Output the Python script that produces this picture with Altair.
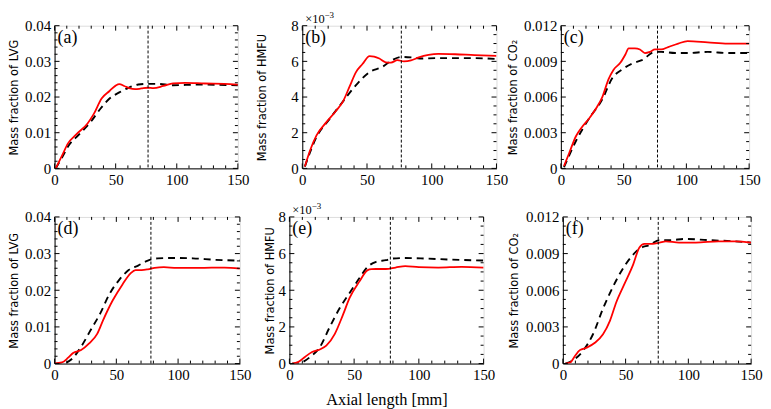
import altair as alt
import pandas as pd

# ---------------- data ----------------
# (a) LVG, case 1
A_RED_X = [1, 6, 11, 18, 27, 32, 38.5, 45, 50, 53, 57, 61, 66, 71, 76, 81, 89, 97, 107, 123, 139, 150]
A_RED_Y = [0.0, 0.0035, 0.007, 0.0096, 0.0126, 0.0152, 0.0196, 0.0217, 0.0232, 0.0236, 0.0231, 0.0225,
           0.0222, 0.0224, 0.0226, 0.0225, 0.0231, 0.0238, 0.024, 0.0238, 0.0237, 0.0235]
A_BLK_X = [1, 6, 11, 21.5, 29.5, 37, 45, 53, 60.5, 68.5, 76, 84, 97, 118, 150]
A_BLK_Y = [0.0, 0.003, 0.0061, 0.0100, 0.013, 0.0165, 0.0196, 0.0213, 0.0226, 0.0235, 0.0237, 0.0237,
           0.0233, 0.0235, 0.0233]
# (b) HMFU (x1e-3), case 1
B_RED_X = [2, 6, 11, 18.5, 26, 31.5, 36.5, 41.5, 46.5, 52, 55.5, 59.5, 64.5, 68.5, 73.5, 78.5, 84, 90,
           97.5, 105, 118, 133, 150]
B_RED_Y = [0.1, 1.0, 1.85, 2.58, 3.22, 3.76, 4.58, 5.4, 5.85, 6.3, 6.27, 6.16, 5.95, 5.93, 6.07, 6.0,
           6.05, 6.22, 6.36, 6.42, 6.4, 6.35, 6.31]
B_BLK_X = [2, 11, 21, 31.5, 41.5, 52, 62, 69.5, 77, 85, 92.5, 103, 118, 133, 150]
B_BLK_Y = [0.1, 1.76, 2.76, 3.76, 4.67, 5.4, 5.7, 6.07, 6.25, 6.22, 6.16, 6.18, 6.18, 6.18, 6.13]
# (c) CO2, case 1
C_RED_X = [2.5, 6.5, 12, 17, 22.5, 29, 33, 38, 42, 47.5, 51.5, 54, 59, 63, 67, 71, 75, 80, 85.5, 93.5,
           101, 117, 133, 150]
C_RED_Y = [0.0002, 0.00125, 0.0027, 0.0035, 0.0042, 0.0052, 0.006, 0.0075, 0.0083, 0.0089, 0.0096,
           0.0101, 0.0101, 0.0100, 0.0097, 0.0098, 0.0100, 0.0100, 0.0102, 0.0105, 0.0107, 0.0106,
           0.0105, 0.0105]
C_BLK_X = [2.5, 12, 22.5, 33, 41, 48.5, 56.5, 64.5, 75, 80, 91, 101, 117, 133, 150]
C_BLK_Y = [0.0001, 0.0023, 0.0042, 0.0058, 0.0076, 0.0083, 0.0088, 0.0091, 0.0098, 0.0098, 0.0097,
           0.0097, 0.0098, 0.0097, 0.0097]
# (d) LVG, case 2
D_RED_X = [0, 6, 11, 15, 21.5, 28, 34.5, 39.5, 47, 55, 61.5, 65.5, 70.5, 75.5, 81, 88.5, 99, 117,
           137.5, 150]
D_RED_Y = [0, 0.0003, 0.0016, 0.0029, 0.0037, 0.0055, 0.0081, 0.012, 0.0172, 0.0216, 0.0246, 0.0255,
           0.0255, 0.0257, 0.0261, 0.0263, 0.0261, 0.0261, 0.0262, 0.0259]
D_BLK_X = [0, 8.5, 13.5, 21.5, 29, 37, 44.5, 52.5, 60, 68, 75.5, 83.5, 96, 112, 130, 150]
D_BLK_Y = [0, 0.0002, 0.0011, 0.0046, 0.009, 0.0137, 0.019, 0.0229, 0.0255, 0.0268, 0.0281, 0.0287,
           0.0288, 0.0287, 0.0283, 0.0281]
# (e) HMFU (x1e-3), case 2
E_RED_X = [2, 7, 12, 17.5, 23.5, 28.5, 35, 41.5, 46.5, 54, 60.5, 63.5, 67, 74.5, 82, 89.5, 100, 115,
           133, 150]
E_RED_Y = [0, 0.09, 0.36, 0.63, 0.77, 0.98, 1.61, 2.68, 3.58, 4.47, 5.1, 5.15, 5.16, 5.16, 5.24, 5.32,
           5.26, 5.24, 5.28, 5.24]
E_BLK_X = [2, 8.5, 16, 23.5, 31, 39, 46.5, 54, 60.5, 67, 74.5, 79.5, 89.5, 105, 125, 150]
E_BLK_Y = [0, 0.04, 0.36, 0.89, 1.97, 3.04, 3.85, 4.65, 5.28, 5.55, 5.64, 5.73, 5.76, 5.73, 5.67, 5.62]
# (f) CO2, case 2
F_RED_X = [2, 6, 9.5, 13.5, 19, 25.5, 32, 37.5, 42.5, 49, 56, 61, 65, 71.5, 77, 82, 92.5, 106, 124,
           137.5, 150]
F_RED_Y = [0, 0.0001, 0.0006, 0.0011, 0.0013, 0.0017, 0.0024, 0.0035, 0.005, 0.0065, 0.0081, 0.0095,
           0.0098, 0.0098, 0.0099, 0.0100, 0.0099, 0.0099, 0.0100, 0.0100, 0.0099]
F_BLK_X = [2, 8.5, 16.5, 24, 32, 40, 48, 55, 61, 69, 77, 85, 98, 116, 137.5, 150]
F_BLK_Y = [0, 0.0003, 0.0011, 0.0024, 0.0045, 0.0063, 0.0078, 0.0088, 0.0094, 0.0097, 0.0101, 0.0101,
           0.0102, 0.0101, 0.0100, 0.0099]

VLINE_X = [76.5, 76.5, 77, 78, 78, 76]
PANEL_LABELS = ["(a)", "(b)", "(c)", "(d)", "(e)", "(f)"]
Y_TITLES = ["Mass fraction of LVG", "Mass fraction of HMFU", "Mass fraction of CO₂"]
X_TITLE = "Axial length [mm]"
EXP_BASE = "×10"
EXP_POWER = "−3"

X_MAJOR = [0, 50, 100, 150]
X_MINOR = [10, 20, 30, 40, 60, 70, 80, 90, 110, 120, 130, 140]
LVG_MAJOR = [0, 0.01, 0.02, 0.03, 0.04]
LVG_MINOR = [0.002, 0.004, 0.006, 0.008, 0.012, 0.014, 0.016, 0.018, 0.022, 0.024, 0.026, 0.028,
             0.032, 0.034, 0.036, 0.038]
HMFU_MAJOR = [0, 2, 4, 6, 8]
HMFU_MINOR = [0.5, 1, 1.5, 2.5, 3, 3.5, 4.5, 5, 5.5, 6.5, 7, 7.5]
CO2_MAJOR = [0, 0.003, 0.006, 0.009, 0.012]
CO2_MINOR = [0.00075, 0.0015, 0.00225, 0.00375, 0.0045, 0.00525, 0.00675, 0.0075, 0.00825,
             0.00975, 0.0105, 0.01125]

SERIF = "Liberation Serif"
SANS = "DejaVu Sans"


def panel(rx, ry, bx, by, ymax, ymaj, ymin, yfmt, ytitle, label, vx, w, h, extent,
          xtitle=None, expo=False):
    xs = alt.Scale(domain=[0, 150], nice=False, zero=False)
    ys = alt.Scale(domain=[0, ymax], nice=False, zero=False)
    xax_kw = dict(values=X_MAJOR, tickCount=20, ticks=False, grid=False, labelFont=SERIF,
                  labelFontSize=15, labelColor="black", domainColor="black", labelPadding=4,
                  format="d", labelFlush=False, labelOverlap=False)
    if xtitle:
        xax = alt.Axis(title=xtitle, titleFont=SERIF, titleFontSize=16.5, titleFontWeight="normal",
                       titleColor="black", titlePadding=9, **xax_kw)
    else:
        xax = alt.Axis(title="", **xax_kw)
    yax = alt.Axis(values=ymaj, tickCount=20, ticks=False, grid=False, labelFont=SERIF,
                   labelFontSize=15, labelColor="black", domainColor="black", labelPadding=4,
                   labelFlush=False, labelOverlap=False,
                   labelExpr="datum.value == 0 ? '0' : format(datum.value, '%s')" % yfmt,
                   title=ytitle, titleFont=SANS, titleFontSize=11.5, titleFontWeight="normal",
                   titleColor="black", titlePadding=0, minExtent=extent, maxExtent=extent)

    red = pd.DataFrame({"x": rx, "y": ry})
    blk = pd.DataFrame({"x": bx, "y": by})
    layers = []
    layers.append(alt.Chart(blk).mark_line(color="black", strokeWidth=1.9, strokeDash=[7, 5],
                                           interpolate="monotone", clip=True)
                  .encode(x=alt.X("x:Q", scale=xs, axis=xax), y=alt.Y("y:Q", scale=ys, axis=yax)))
    layers.append(alt.Chart(red).mark_line(color="#ff0000", strokeWidth=1.8,
                                           interpolate="monotone", clip=True)
                  .encode(x="x:Q", y="y:Q"))
    layers.append(alt.Chart(pd.DataFrame({"x": [vx]}))
                  .mark_rule(color="black", strokeWidth=1, strokeDash=[3, 2])
                  .encode(x="x:Q"))
    # inward ticks on all four sides
    for vals, ln in ((ymaj, 5), (ymin, 3)):
        dfy = pd.DataFrame({"y": vals})
        layers.append(alt.Chart(dfy).mark_rule(color="black", strokeWidth=1)
                      .encode(y="y:Q", x=alt.value(0), x2=alt.value(ln)))
        layers.append(alt.Chart(dfy).mark_rule(color="black", strokeWidth=1)
                      .encode(y="y:Q", x=alt.value(w - ln), x2=alt.value(w)))
    for vals, ln in ((X_MAJOR, 5), (X_MINOR, 3)):
        dfx = pd.DataFrame({"x": vals})
        layers.append(alt.Chart(dfx).mark_rule(color="black", strokeWidth=1)
                      .encode(x="x:Q", y=alt.value(h), y2=alt.value(h - ln)))
        layers.append(alt.Chart(dfx).mark_rule(color="black", strokeWidth=1)
                      .encode(x="x:Q", y=alt.value(0), y2=alt.value(ln)))
    layers.append(alt.Chart(pd.DataFrame({"t": [label]}))
                  .mark_text(align="left", baseline="top", font=SERIF, fontSize=18, color="black")
                  .encode(text="t:N", x=alt.value(3), y=alt.value(3)))
    if expo:
        layers.append(alt.Chart(pd.DataFrame({"t": [EXP_BASE]}))
                      .mark_text(align="left", baseline="alphabetic", font=SERIF, fontSize=12.5,
                                 color="black")
                      .encode(text="t:N", x=alt.value(3), y=alt.value(-3)))
        layers.append(alt.Chart(pd.DataFrame({"t": [EXP_POWER]}))
                      .mark_text(align="left", baseline="alphabetic", font=SERIF, fontSize=9,
                                 color="black")
                      .encode(text="t:N", x=alt.value(22.5), y=alt.value(-8)))
    return alt.layer(*layers).properties(width=w, height=h)


H1, H2 = 144, 148
pa = panel(A_RED_X, A_RED_Y, A_BLK_X, A_BLK_Y, 0.04, LVG_MAJOR, LVG_MINOR, ".2f", Y_TITLES[0],
           PANEL_LABELS[0], VLINE_X[0], 185, H1, 35)
pb = panel(B_RED_X, B_RED_Y, B_BLK_X, B_BLK_Y, 8, HMFU_MAJOR, HMFU_MINOR, "d", Y_TITLES[1],
           PANEL_LABELS[1], VLINE_X[1], 196, H1, 35, expo=True)
pc = panel(C_RED_X, C_RED_Y, C_BLK_X, C_BLK_Y, 0.012, CO2_MAJOR, CO2_MINOR, ".3f", Y_TITLES[2],
           PANEL_LABELS[2], VLINE_X[2], 190, H1, 43)
pd_ = panel(D_RED_X, D_RED_Y, D_BLK_X, D_BLK_Y, 0.04, LVG_MAJOR, LVG_MINOR, ".2f", Y_TITLES[0],
            PANEL_LABELS[3], VLINE_X[3], 187, H2, 35)
pe = panel(E_RED_X, E_RED_Y, E_BLK_X, E_BLK_Y, 8, HMFU_MAJOR, HMFU_MINOR, "d", Y_TITLES[1],
           PANEL_LABELS[4], VLINE_X[4], 196, H2, 14, xtitle=X_TITLE, expo=True)
pf = panel(F_RED_X, F_RED_Y, F_BLK_X, F_BLK_Y, 0.012, CO2_MAJOR, CO2_MINOR, ".3f", Y_TITLES[2],
           PANEL_LABELS[5], VLINE_X[5], 190, H2, 44)

row1 = alt.hconcat(pa, pb, pc, spacing=65, bounds="flush")
row2 = alt.hconcat(pd_, pe, pf, spacing=12)

chart = (alt.vconcat(row1, row2, spacing=13)
         .properties(padding={"left": 0, "top": 0, "right": 0, "bottom": 0})
         .configure_view(stroke="black", strokeWidth=1)
         .configure(background="white"))

chart.save("out.html", embed_options={"renderer": "svg", "actions": False})
